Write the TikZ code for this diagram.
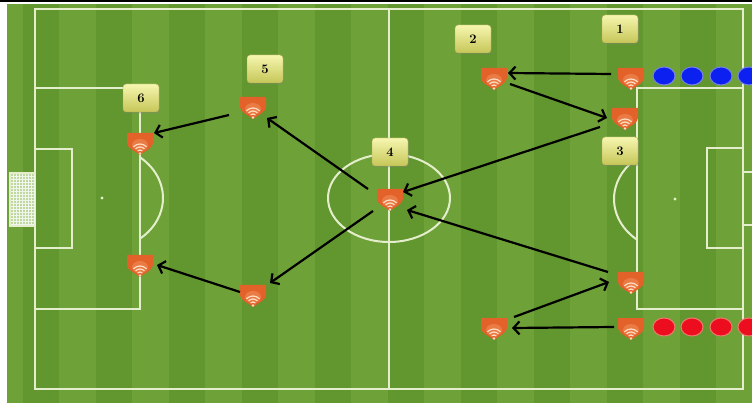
\documentclass[tikz,border=0pt]{standalone}
\usetikzlibrary{arrows.meta,calc,shadows,shapes.geometric}

\definecolor{grassA}{RGB}{110,162,56}
\definecolor{grassB}{RGB}{98,150,46}
\definecolor{linecol}{RGB}{228,238,205}
\definecolor{coneorange}{RGB}{226,98,42}
\definecolor{conelight}{RGB}{242,140,88}
\definecolor{wifi}{RGB}{255,222,196}
\definecolor{labtop}{RGB}{246,246,176}
\definecolor{labbot}{RGB}{198,198,88}
\definecolor{labedge}{RGB}{170,168,80}
\definecolor{dotblue}{RGB}{12,32,240}
\definecolor{dotblueedge}{RGB}{120,130,225}
\definecolor{dotred}{RGB}{236,14,30}
\definecolor{dotrededge}{RGB}{238,120,110}

\tikzset{
  fieldline/.style={draw=linecol, line width=2pt},
  cone/.style={minimum width=28pt, minimum height=26pt, inner sep=0pt,
    path picture={
      \begin{scope}[shift={(path picture bounding box.center)}]
        \fill[coneorange] (-13,-10) -- (13,-10) -- (13,0)
          .. controls (13,5) and (5,8) .. (0,12)
          .. controls (-5,8) and (-13,5) .. (-13,0) -- cycle;
        \fill[conelight, opacity=0.6] (0,2) ellipse (8 and 6);
        \draw[wifi, line width=1.2pt, line cap=round]
          (0,10) ++(225:9) arc[start angle=225, end angle=315, radius=9];
        \draw[wifi, line width=1.2pt, line cap=round]
          (0,10) ++(225:6) arc[start angle=225, end angle=315, radius=6];
        \draw[wifi, line width=1.2pt, line cap=round]
          (0,10) ++(225:3) arc[start angle=225, end angle=315, radius=3];
        \fill[wifi] (0,10.5) circle (1.3);
      \end{scope}}},
  lab/.style={rounded corners=3pt, minimum width=36pt, minimum height=28pt,
    top color=labtop, bottom color=labbot, draw=labedge, line width=0.4pt,
    font=\fontsize{13}{15}\selectfont\bfseries, inner sep=0pt,
    drop shadow={shadow xshift=1pt, shadow yshift=-1.5pt, opacity=0.35}},
  bdot/.style={ellipse, minimum width=22pt, minimum height=18pt, inner sep=0pt,
    fill=dotblue, draw=dotblueedge, line width=1pt},
  rdot/.style={ellipse, minimum width=22pt, minimum height=18pt, inner sep=0pt,
    fill=dotred, draw=dotrededge, line width=1pt},
  pass/.style={draw=black, line width=2.2pt,
    -{Straight Barb[length=6pt, width=13pt]}},
}

\begin{document}
\begin{tikzpicture}[x=1pt, y=-1pt]
\useasboundingbox (0,0) rectangle (752,403);
\clip (0,0) rectangle (752,403);

% page strip and top rule
\fill[white] (0,0) rectangle (752,403);
\fill[black] (0,0) rectangle (752,2.5);

% grass with mowing stripes
\fill[grassA] (7,4) rectangle (752,403);
\foreach \k in {0,2,...,20}
  \fill[grassB] ({22.5+36.5*\k},4) rectangle ({22.5+36.5*(\k+1)},403);

% pitch markings
\draw[fieldline] (35,9) rectangle (743,389);
\draw[fieldline] (389,9) -- (389,389);
\draw[fieldline] (389,198) ellipse (61 and 44);
% left half
\draw[fieldline] (35,88) rectangle (140,309);
\draw[fieldline] (35,149) rectangle (72,248);
\fill[linecol] (102,198) circle (1.6);
\draw[fieldline] (102,198) ++(-51.5:61 and 52)
  arc[start angle=-51.5, end angle=51.5, x radius=61, y radius=52];
% left goal net
\fill[linecol!70!grassA] (10,173) rectangle (35,226);
\foreach \gx in {13,16,...,34} \draw[white!90!grassA, line width=0.5pt] (\gx,173) -- (\gx,226);
\foreach \gy in {176,179,...,225} \draw[white!90!grassA, line width=0.5pt] (10,\gy) -- (35,\gy);
\draw[linecol, line width=1.5pt] (35,173) -- (10,173) -- (10,226) -- (35,226);
% right half
\draw[fieldline] (637,88) rectangle (743,309);
\draw[fieldline] (707,148) rectangle (743,248);
\fill[linecol] (675,199) circle (1.6);
\draw[fieldline] (675,199) ++(128.5:61 and 52)
  arc[start angle=128.5, end angle=231.5, x radius=61, y radius=52];
\draw[linecol, line width=1.5pt] (743,172) -- (760,172);
\draw[linecol, line width=1.5pt] (743,225) -- (760,225);

% waiting players
\node[bdot] (b1) at (664,76) {};
\node[bdot] (b2) at (692,76) {};
\node[bdot] (b3) at (721,76) {};
\node[bdot] (b4) at (749,76) {};
\node[rdot] (r1) at (664,327) {};
\node[rdot] (r2) at (692,327) {};
\node[rdot] (r3) at (721,327) {};
\node[rdot] (r4) at (749,327) {};

% cones
\node[cone] (c1)  at (631,78)  {};
\node[cone] (c2)  at (494,78)  {};
\node[cone] (c3)  at (625,118) {};
\node[cone] (c4)  at (390,199) {};
\node[cone] (c5)  at (253,107) {};
\node[cone] (c6)  at (140,143) {};
\node[cone] (c7)  at (140,265) {};
\node[cone] (c8)  at (253,295) {};
\node[cone] (c9)  at (631,282) {};
\node[cone] (c10) at (494,328) {};
\node[cone] (c11) at (631,328) {};

% step labels
\node[lab] (l1) at (620,29)  {1};
\node[lab] (l2) at (473,39)  {2};
\node[lab] (l3) at (620,151) {3};
\node[lab] (l4) at (390,152) {4};
\node[lab] (l5) at (265,69)  {5};
\node[lab] (l6) at (141,98)  {6};

% passing sequence
\draw[pass] ($(c1)+(-20,-4)$)  -- ($(c2)+(14,-5)$);
\draw[pass] ($(c2)+(16,6)$)    -- ($(c3)+(-18,0)$);
\draw[pass] ($(c3)+(-25,9)$)   -- ($(c4)+(13,-7)$);
\draw[pass] ($(c9)+(-23,-10)$) -- ($(c4)+(17,11)$);
\draw[pass] ($(c11)+(-17,-1)$) -- ($(c10)+(18,0)$);
\draw[pass] ($(c10)+(20,-11)$) -- ($(c9)+(-22,0)$);
\draw[pass] ($(c4)+(-22,-10)$) -- ($(c5)+(14,11)$);
\draw[pass] ($(c4)+(-17,12)$)  -- ($(c8)+(17,-12)$);
\draw[pass] ($(c5)+(-24,8)$)   -- ($(c6)+(14,-10)$);
\draw[pass] ($(c8)+(-13,-3)$)  -- ($(c7)+(17,0)$);
\end{tikzpicture}
\end{document}
